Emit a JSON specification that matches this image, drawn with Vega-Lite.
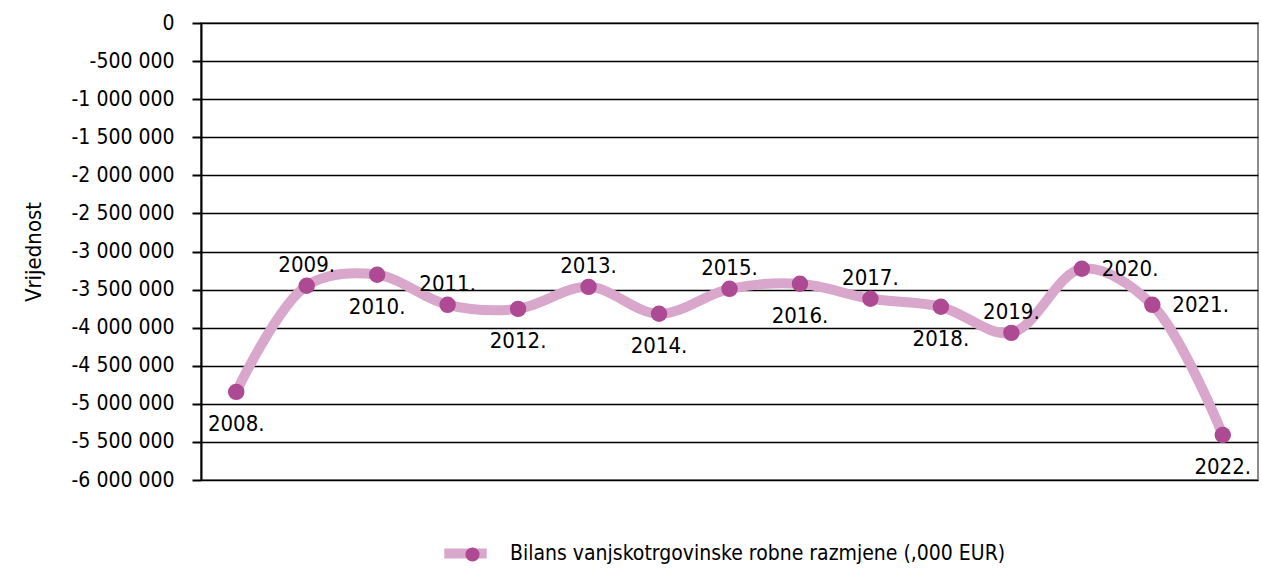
{
  "$schema": "https://vega.github.io/schema/vega-lite/v6.json",
  "width": 1057,
  "height": 457,
  "autosize": {"type": "none"},
  "padding": {"left": 201, "top": 23, "right": 4, "bottom": 92},
  "background": "white",
  "config": {
    "font": "DejaVu Sans Condensed",
    "view": {"stroke": "#8c8c8c", "strokeWidth": 2}
  },
  "data": {
    "values": [
      {"year": "2008.", "value": -4843000},
      {"year": "2009.", "value": -3450000},
      {"year": "2010.", "value": -3305000},
      {"year": "2011.", "value": -3700000},
      {"year": "2012.", "value": -3753000},
      {"year": "2013.", "value": -3464000},
      {"year": "2014.", "value": -3818000},
      {"year": "2015.", "value": -3490000},
      {"year": "2016.", "value": -3424000},
      {"year": "2017.", "value": -3621000},
      {"year": "2018.", "value": -3726000},
      {"year": "2019.", "value": -4068000},
      {"year": "2020.", "value": -3227000},
      {"year": "2021.", "value": -3700000},
      {"year": "2022.", "value": -5409000}
    ]
  },
  "encoding": {
    "x": {"field": "year", "type": "ordinal", "scale": {"type": "point", "padding": 0.5}, "axis": null},
    "y": {
      "field": "value", "type": "quantitative",
      "scale": {"domain": [-6000000, 0], "nice": false, "zero": false},
      "axis": {
        "values": [0, -500000, -1000000, -1500000, -2000000, -2500000, -3000000, -3500000, -4000000, -4500000, -5000000, -5500000, -6000000],
        "labelExpr": "replace(replace(format(datum.value, ','), /,/g, ' '), /\u2212/g, '-')",
        "title": "Vrijednost",
        "titleFont": "DejaVu Sans Condensed",
        "titleFontSize": 22,
        "titleFontWeight": "normal",
        "titleColor": "black",
        "titlePadding": 26,
        "labelFont": "DejaVu Sans Condensed",
        "labelFontSize": 21,
        "labelColor": "black",
        "labelPadding": 18,
        "tickColor": "black",
        "tickSize": 9,
        "tickWidth": 2,
        "domainColor": "black",
        "domainWidth": 2,
        "gridColor": "black",
        "gridWidth": 1.6,
        "gridOpacity": 1
      }
    }
  },
  "layer": [
    {
      "mark": {"type": "line", "interpolate": "catmull-rom", "strokeWidth": 10, "strokeCap": "round"},
      "encoding": {
        "color": {
          "datum": "Bilans vanjskotrgovinske robne razmjene (,000 EUR)",
          "scale": {"range": ["#d9a7cb"]},
          "legend": {
            "orient": "none", "legendX": 238, "legendY": 504,
            "title": null, "symbolType": "stroke", "symbolStrokeWidth": 10, "symbolSize": 1800,
            "labelFont": "DejaVu Sans Condensed", "labelFontSize": 21, "labelColor": "black", "labelOffset": 18, "labelLimit": 0
          }
        }
      }
    },
    {
      "mark": {"type": "circle", "size": 270, "opacity": 1},
      "encoding": {
        "fill": {
          "datum": "p",
          "scale": {"range": ["#ae4a93"]},
          "legend": {
            "orient": "none", "legendX": 264, "legendY": 524,
            "title": null, "symbolType": "circle", "symbolSize": 200, "symbolOpacity": 1,
            "labelExpr": "''", "symbolStrokeWidth": 0
          }
        }
      }
    },
    {
      "transform": [{"filter": {"field": "year", "oneOf": ["2009.", "2011.", "2013.", "2015.", "2017.", "2019."]}}],
      "mark": {"type": "text", "dy": -21, "fontSize": 22, "font": "DejaVu Sans Condensed", "color": "black"},
      "encoding": {"text": {"field": "year"}}
    },
    {
      "transform": [{"filter": {"field": "year", "oneOf": ["2008.", "2010.", "2012.", "2014.", "2016.", "2018.", "2022."]}}],
      "mark": {"type": "text", "dy": 32, "fontSize": 22, "font": "DejaVu Sans Condensed", "color": "black"},
      "encoding": {"text": {"field": "year"}}
    },
    {
      "transform": [{"filter": {"field": "year", "oneOf": ["2020.", "2021."]}}],
      "mark": {"type": "text", "dx": 20, "align": "left", "fontSize": 22, "font": "DejaVu Sans Condensed", "color": "black"},
      "encoding": {"text": {"field": "year"}}
    }
  ]
}
